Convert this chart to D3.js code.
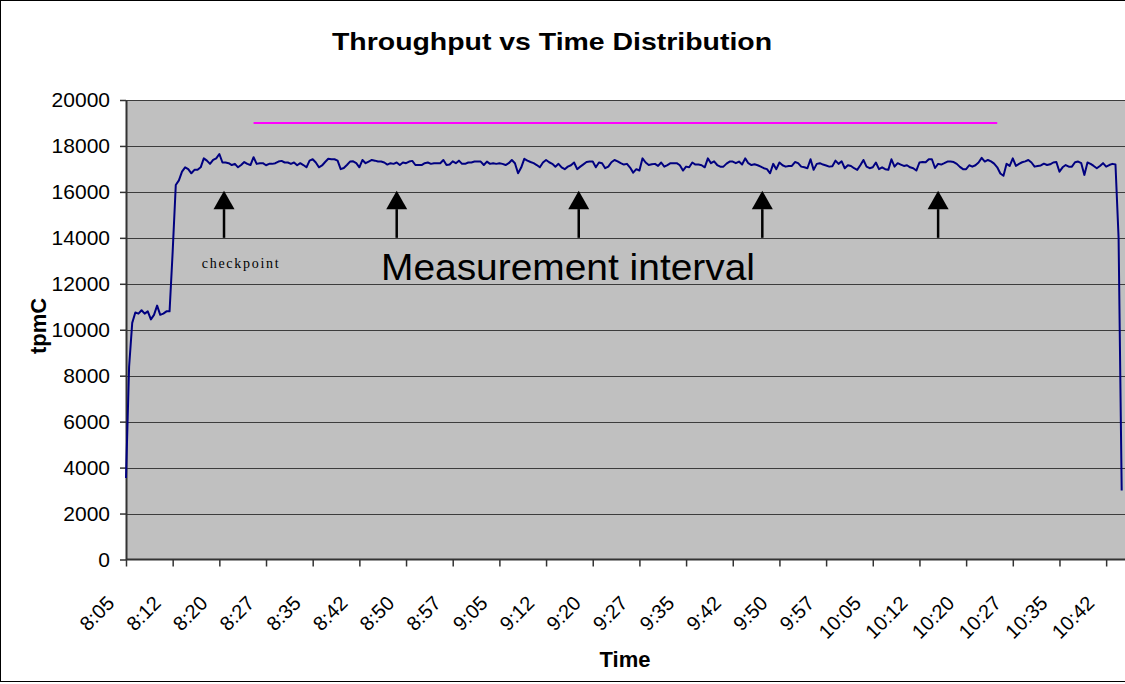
<!DOCTYPE html>
<html>
<head>
<meta charset="utf-8">
<script src="https://cdn.jsdelivr.net/npm/d3@7"></script>
<style>
  html, body { margin: 0; padding: 0; background: #fff; }
  svg { display: block; }
  text { font-family: "Liberation Sans", Arial, sans-serif; fill: #000; }
</style>
</head>
<body>
<svg id="chart" width="1125" height="684"></svg>
<script>
// ---------------- data ----------------
const chartTitle = "Throughput vs Time Distribution";
const xTitle = "Time";
const yTitle = "tpmC";

// x tick labels (one every 15 samples, 30 s per sample)
const tickLabels = ["8:05","8:12","8:20","8:27","8:35","8:42","8:50","8:57","9:05","9:12","9:20",
  "9:27","9:35","9:42","9:50","9:57","10:05","10:12","10:20","10:27","10:35","10:42"];
const tickEvery = 15;

const yTicks = [0,2000,4000,6000,8000,10000,12000,14000,16000,18000,20000];

// tpmC samples
const tpmC = [
  3550, 8400,10300,10750,10700,10850,10700,10800,10450,10650,11050,10650,10700,10800,10800,13400,16300,
  16500,16880,17070,16990,16810,16960,16960,17070,17460,17360,17220,17390,17460,17650,17280,17280,17250,
  17170,17220,17070,17170,17300,17220,17170,17510,17220,17250,17250,17160,17220,17220,17250,17320,17350,
  17280,17280,17220,17280,17160,17250,17170,17070,17360,17420,17280,17070,17150,17300,17440,
  17420,17420,17360,16990,17040,17170,17320,17330,17250,17070,17390,17250,17320,17390,17360,17320,17320,
  17280,17190,17250,17220,17280,17170,17280,17250,17320,17350,17170,17170,17170,17250,17280,17220,17250,
  17250,17250,17390,17170,17190,17330,17250,17360,17220,17220,17280,17280,17320,17320,17320,17170,17320,
  17220,17250,17220,17250,17220,17170,17250,17390,17250,16810,17060,17440,17360,17300,
  17250,17170,17070,17280,17390,17290,17220,17100,17220,17070,16990,17100,17160,17280,16990,17100,17200,
  17300,17320,17320,17070,17280,17250,17030,17100,17290,17390,17330,17250,17190,17220,17060,16840,16990,
  16930,17460,17280,17170,17200,17220,17130,17280,17100,17170,17250,17250,17250,17160,16930,17100,17070,
  17280,17190,17190,17160,17070,17460,17250,17330,17170,17100,17100,17230,17320,
  17320,17250,17320,17190,17460,17250,17170,17200,17160,17100,17030,16990,16810,17220,16990,17280,17160,
  17100,17130,17130,17300,17250,17100,17070,17030,17420,16960,17220,17250,17190,17150,17100,17120,17360,
  17220,17330,17030,17160,17130,17030,16960,17160,17390,17100,17030,17070,17280,16990,17070,16990,16960,
  17420,17100,17250,17190,17130,17160,17070,17030,16930,17280,17300,17290,17420,
  17420,17040,17220,17190,17250,17320,17320,17300,17220,17090,16990,16990,17160,17100,17160,17280,17480,
  17320,17390,17330,17230,17070,16800,16700,17220,17130,17460,17130,17220,17290,17330,17390,17280,17100,
  17130,17150,17230,17170,17200,17280,17300,16880,17070,17170,17100,17100,17290,17320,17250,16740,17280,
  17220,17130,17030,17130,17250,17100,17170,17220,17190,14000,3000
];

// measurement interval reference line (sample indices) and its level
const measureFrom = 41, measureTo = 280, measureLevel = 19000;

// checkpoint arrows (sample index positions) and their extent in tpmC
const checkpointAt = [31.5, 87, 145.5, 204.5, 261];
const arrowBase = 14000, arrowHeadBase = 15250, arrowTip = 16050;

// ---------------- drawing ----------------
const svg = d3.select("#chart");
const W = 1125, H = 684;
const plotL = 126, plotR = 1121.7, plotT = 100, plotB = 559.5;

const x = d3.scaleLinear().domain([0, tpmC.length - 1]).range([plotL, plotR]);
const y = d3.scaleLinear().domain([0, 20000]).range([plotB, plotT]);

// chart border
svg.append("rect").attr("x", 0.5).attr("y", 0.5).attr("width", W + 5).attr("height", 681)
  .attr("fill", "#fff").attr("stroke", "#000").attr("stroke-width", 1);

// plot area
svg.append("rect").attr("x", plotL).attr("y", plotT).attr("width", W - plotL).attr("height", plotB - plotT)
  .attr("fill", "#C0C0C0");

// gridlines
svg.append("g").selectAll("line").data(yTicks.filter(d => d > 0)).join("line")
  .attr("x1", plotL).attr("x2", W)
  .attr("y1", d => Math.round(y(d)) + 0.5).attr("y2", d => Math.round(y(d)) + 0.5)
  .attr("stroke", "#3c3c3c").attr("stroke-width", 1);

// y axis
const yAxis = svg.append("g").attr("transform", `translate(${plotL},0)`)
  .call(d3.axisLeft(y).tickValues(yTicks).tickSize(6).tickSizeOuter(0).tickPadding(10).tickFormat(d => d));
yAxis.select(".domain").attr("stroke", "#333").attr("stroke-width", 2);
yAxis.selectAll(".tick line").attr("stroke", "#333").attr("stroke-width", 1.5);
yAxis.selectAll(".tick text").style("font-size", "21px").attr("font-family", null);

// x axis
const tickIdx = tickLabels.map((d, i) => i * tickEvery);
const xAxis = svg.append("g").attr("transform", `translate(0,${plotB})`)
  .call(d3.axisBottom(x).tickValues(tickIdx).tickSize(7).tickSizeOuter(0).tickFormat((d, i) => tickLabels[i]));
xAxis.select(".domain").attr("stroke", "#333").attr("stroke-width", 2).attr("d", `M${plotL},0H${W}`);
xAxis.selectAll(".tick line").attr("stroke", "#333").attr("stroke-width", 1.5);
xAxis.selectAll(".tick text")
  .style("font-size", "20px")
  .attr("text-anchor", "end")
  .attr("dy", null)
  .attr("y", null)
  .attr("transform", "translate(-11,45) rotate(-45)");

// throughput line
svg.append("path").datum(tpmC)
  .attr("fill", "none").attr("stroke", "#000080").attr("stroke-width", 2).attr("stroke-linejoin", "round")
  .attr("d", d3.line().x((d, i) => x(i)).y(d => y(d)));

// measurement interval line
svg.append("line")
  .attr("x1", x(measureFrom)).attr("x2", x(measureTo))
  .attr("y1", y(measureLevel)).attr("y2", y(measureLevel))
  .attr("stroke", "#FF00FF").attr("stroke-width", 2);

// checkpoint arrows
const arrows = svg.append("g");
arrows.selectAll("line").data(checkpointAt).join("line")
  .attr("x1", d => x(d)).attr("x2", d => x(d))
  .attr("y1", y(arrowBase)).attr("y2", y(arrowHeadBase))
  .attr("stroke", "#000").attr("stroke-width", 2.5);
arrows.selectAll("path").data(checkpointAt).join("path")
  .attr("d", d => `M${x(d) - 10.5},${y(arrowHeadBase)}L${x(d) + 10.5},${y(arrowHeadBase)}L${x(d)},${y(arrowTip)}Z`)
  .attr("fill", "#000");

// annotations
svg.append("text").attr("x", 201.7).attr("y", 268.3)
  .attr("textLength", 77).attr("lengthAdjust", "spacing")
  .style("font-family", '"Liberation Serif", "Times New Roman", serif').style("font-size", "14px")
  .text("checkpoint");
svg.append("text").attr("x", 381).attr("y", 280)
  .attr("textLength", 374).attr("lengthAdjust", "spacingAndGlyphs")
  .style("font-size", "36px")
  .text("Measurement interval");

// titles
svg.append("text").attr("x", 552).attr("y", 50).attr("text-anchor", "middle")
  .attr("textLength", 440).attr("lengthAdjust", "spacingAndGlyphs")
  .style("font-size", "24px").style("font-weight", "bold").text(chartTitle);
svg.append("text").attr("x", 625).attr("y", 667).attr("text-anchor", "middle")
  .style("font-size", "22px").style("font-weight", "bold").text(xTitle);
svg.append("text").attr("transform", "translate(46,326) rotate(-90)").attr("text-anchor", "middle")
  .style("font-size", "22px").style("font-weight", "bold").text(yTitle);
</script>
</body>
</html>
